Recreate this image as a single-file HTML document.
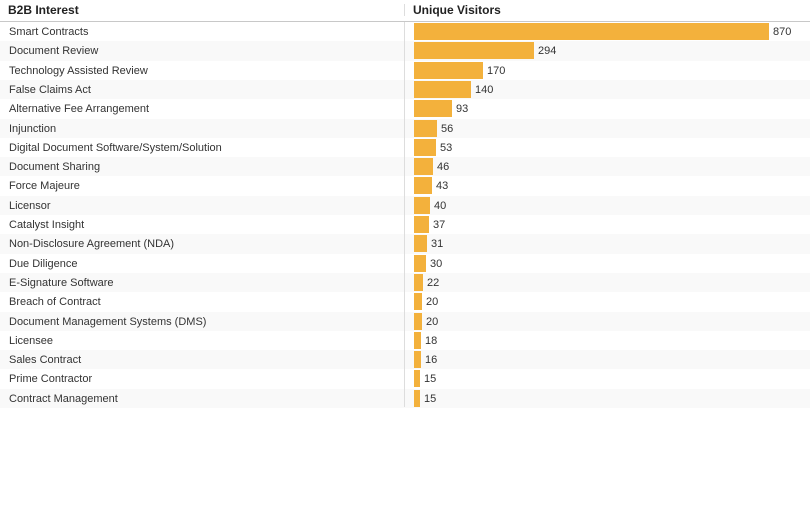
<!DOCTYPE html>
<html><head><meta charset="utf-8"><style>
body{margin:0;width:810px;height:526px;background:#fff;font-family:"Liberation Sans",Arial,sans-serif;position:relative;overflow:hidden;color:#333}
.h{position:absolute;top:3px;font-size:12px;font-weight:700;color:#222}
.hl{position:absolute;left:0;top:21px;width:810px;height:1px;background:#c8c8c8}
.vd{position:absolute;left:404px;width:1px;background:#ddd}
.row{position:absolute;left:0;width:810px}
.row.g{background:#f9f9f9}
.t{position:absolute;left:9px;top:4px;font-size:11px;color:#333;white-space:nowrap}
.b{position:absolute;left:414px;top:1px;height:17px;background:#f3b13c}
.v{position:absolute;top:4px;font-size:11px;color:#333}
</style></head><body>
<div class="h" style="left:8px">B2B Interest</div>
<div class="h" style="left:413px">Unique Visitors</div>
<div class="vd" style="top:4px;height:12px"></div>
<div class="hl"></div>
<div id="rows"></div>
<div class="vd" style="top:22px;height:385px;z-index:2"></div>
<script>
var d=[["Smart Contracts",870],["Document Review",294],["Technology Assisted Review",170],["False Claims Act",140],["Alternative Fee Arrangement",93],["Injunction",56],["Digital Document Software/System/Solution",53],["Document Sharing",46],["Force Majeure",43],["Licensor",40],["Catalyst Insight",37],["Non-Disclosure Agreement (NDA)",31],["Due Diligence",30],["E-Signature Software",22],["Breach of Contract",20],["Document Management Systems (DMS)",20],["Licensee",18],["Sales Contract",16],["Prime Contractor",15],["Contract Management",15]];
var h="";
d.forEach(function(r,i){var w=Math.round(r[1]*355/870);var y=Math.round(22+i*19.3);var y2=Math.round(22+(i+1)*19.3);
h+='<div class="row'+(i%2?' g':'')+'" style="top:'+y+'px;height:'+(y2-y)+'px"><div class="t">'+r[0]+'</div><div class="b" style="width:'+w+'px"></div><div class="v" style="left:'+(414+w+4)+'px">'+r[1]+'</div></div>';});
document.getElementById("rows").innerHTML=h;
</script>
</body></html>
